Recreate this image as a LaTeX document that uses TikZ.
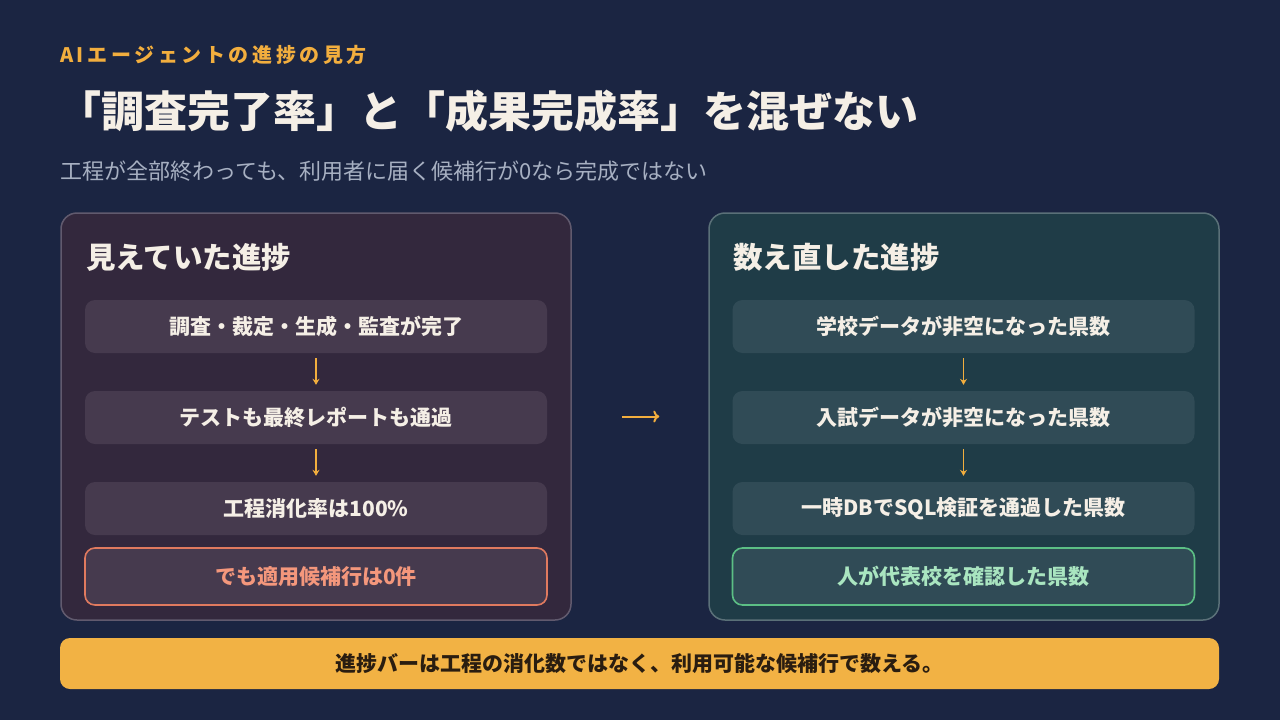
\documentclass[tikz,border=0pt]{standalone}
\usepackage{fontspec}
\setmainfont{Noto Sans CJK JP}
\newfontfamily\spacedjp[LetterSpace=18]{Noto Sans CJK JP}
\usepackage{xcolor}
\usetikzlibrary{arrows.meta}

\definecolor{bgnavy}{HTML}{1B2542}
\definecolor{accent}{HTML}{F2AE3E}
\definecolor{ink}{HTML}{F5EFE6}
\definecolor{subgray}{HTML}{A7B0C2}
\definecolor{leftfill}{HTML}{33283D}
\definecolor{leftbox}{HTML}{463A4E}
\definecolor{leftline}{HTML}{615A6E}
\definecolor{rightfill}{HTML}{1F3C47}
\definecolor{rightbox}{HTML}{304B56}
\definecolor{rightline}{HTML}{5A7078}
\definecolor{warnline}{HTML}{E07A5F}
\definecolor{warntext}{HTML}{F4977C}
\definecolor{okline}{HTML}{5CBF85}
\definecolor{oktext}{HTML}{A9E5C0}
\definecolor{barfill}{HTML}{F2B244}
\definecolor{bartext}{HTML}{2A1D10}

\newcommand{\fs}[1]{\fontsize{#1}{#1}\selectfont}

\begin{document}
\begin{tikzpicture}[x=1pt,y=-1pt,
  panel/.style={rounded corners=16pt,line width=1.5pt,minimum width=510pt,minimum height=407pt,inner sep=0pt},
  stepbox/.style={rounded corners=10pt,minimum width=462pt,minimum height=53pt,inner sep=0pt,
    text=ink,font=\bfseries\fs{21}},
  lastbox/.style={stepbox,minimum height=57pt,line width=1.6pt},
  heading/.style={anchor=west,inner sep=0pt,text=ink,font=\bfseries\fs{29.5}},
  down/.style={accent,line width=1.3pt,-{Stealth[length=6pt,width=7pt,inset=2pt]},shorten <=5pt,shorten >=6pt},
  across/.style={accent,line width=2pt,-{To[length=6pt,width=12pt]},shorten <=50pt,shorten >=49pt}]
%背景
\useasboundingbox (0,0) rectangle (1280,720);
\fill[bgnavy] (0,0) rectangle (1280,720);

%見出し
\node[anchor=west,inner sep=0pt,text=accent,font=\spacedjp\bfseries\fs{20}] (kicker) at (60,55) {AIエージェントの進捗の見方};
\node[anchor=west,inner sep=0pt,text=ink,font=\bfseries\fs{43}] (title) at (58,111) {「調査完了率」と「成果完成率」を混ぜない};
\node[anchor=west,inner sep=0pt,text=subgray,font=\fs{22}] (sub) at (60,171) {工程が全部終わっても、利用者に届く候補行が0なら完成ではない};

%左のパネル
\node[panel,fill=leftfill,draw=leftline] (lpanel) at (316,416.5) {};
\node[heading] (lhead) at (86,257) {見えていた進捗};
\node[stepbox,fill=leftbox] (l1) at (316,326.5) {調査・裁定・生成・監査が完了};
\node[stepbox,fill=leftbox] (l2) at (316,417.5) {テストも最終レポートも通過};
\node[stepbox,fill=leftbox] (l3) at (316,508.5) {工程消化率は100\%};
\node[lastbox,fill=leftbox,draw=warnline,text=warntext] (l4) at (316,576.5) {でも適用候補行は0件};

%右のパネル
\node[panel,fill=rightfill,draw=rightline] (rpanel) at (964,416.5) {};
\node[heading] (rhead) at (733,257) {数え直した進捗};
\node[stepbox,fill=rightbox] (r1) at (963.5,326.5) {学校データが非空になった県数};
\node[stepbox,fill=rightbox] (r2) at (963.5,417.5) {入試データが非空になった県数};
\node[stepbox,fill=rightbox] (r3) at (963.5,508.5) {一時DBでSQL検証を通過した県数};
\node[lastbox,fill=rightbox,draw=okline,text=oktext] (r4) at (963.5,576.5) {人が代表校を確認した県数};

%下の帯
\node[rounded corners=10pt,fill=barfill,minimum width=1159pt,minimum height=51pt,inner sep=0pt,
  text=bartext,font=\bfseries\fs{21}] (bar) at (639.5,663.5) {進捗バーは工程の消化数ではなく、利用可能な候補行で数える。};

%矢印
\draw[down] (l1)--(l2);
\draw[down] (l2)--(l3);
\draw[down] (r1)--(r2);
\draw[down] (r2)--(r3);
\draw[across] (lpanel)--(rpanel);
\end{tikzpicture}
\end{document}
